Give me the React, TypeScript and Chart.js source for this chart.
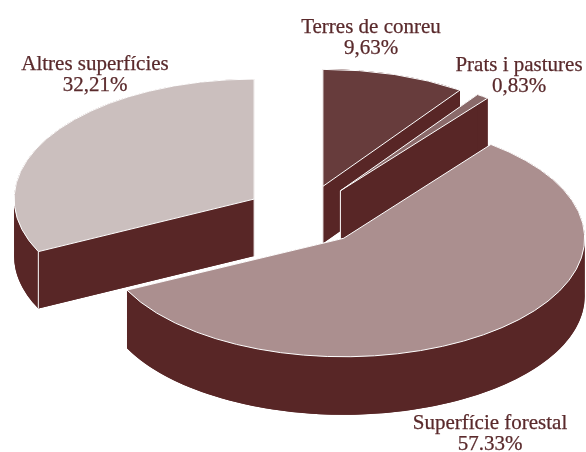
import React, { useEffect, useRef } from "react";
import { Chart, registerables } from "chart.js";

Chart.register(...registerables);

const categories = ["Terres de conreu", "Prats i pastures", "Superfície forestal", "Altres superfícies"];
const shares = [9.63, 0.83, 57.33, 32.21];
const shareLabels = ["9,63%", "0,83%", "57.33%", "32,21%"];
const faceColors = ["#673c3c", "#8a6a6a", "#ab8f8f", "#cbbfbe"];
const wallColor = "#582626";
const textColor = "#5a2a2c";

const labelCenters = [371, 519, 490, 95];
const labelBaselines = [33, 71, 429, 70];
const lineGap = 21;
const drawOrder = [3, 0, 1, 2];

const CENTER_X = 305;
const CENTER_Y = 215;
const EXPLODE_X = 60;
const EXPLODE_Y = 30;
const radiusX = [241, 241, 241, 240];
const radiusY = [117, 117, 118.5, 120];
const nudgeX = [0, 0, 0.8, 0];
const depth = [57, 57, 58, 57];

const pie3d = {
  id: "pie3d",
  beforeDatasetsDraw(chart: any) {
    const ctx = chart.ctx;
    const arcs = chart.getDatasetMeta(0).data;
    drawOrder.forEach((i) => {
      const arc = arcs[i];
      const rx = radiusX[i];
      const ry = radiusY[i];
      const D = depth[i];
      const mid = (arc.startAngle + arc.endAngle) / 2;
      const px = CENTER_X + nudgeX[i] + EXPLODE_X * Math.cos(mid);
      const py = CENTER_Y + EXPLODE_Y * Math.sin(mid);
      const drawAt = (dy: number) => {
        ctx.save();
        ctx.translate(px, py + dy);
        ctx.scale(rx / arc.outerRadius, ry / arc.outerRadius);
        ctx.translate(-arc.x, -arc.y);
        arc.draw(ctx);
        ctx.restore();
      };
      const cornerX = (a: number) => px + rx * Math.cos(a);
      const cornerY = (a: number) => py + ry * Math.sin(a);
      const saved = arc.options;

      // bottom face, and the sides swept down from the top face
      arc.options = { ...saved, backgroundColor: wallColor, borderWidth: 0 };
      drawAt(D);
      ctx.fillStyle = wallColor;
      [arc.startAngle, arc.endAngle].forEach((a: number) => {
        ctx.beginPath();
        ctx.moveTo(px, py);
        ctx.lineTo(cornerX(a), cornerY(a));
        ctx.lineTo(cornerX(a), cornerY(a) + D);
        ctx.lineTo(px, py + D);
        ctx.closePath();
        ctx.fill();
      });
      // the rim is split where the ellipse turns back, at its left and right ends
      const stops = [arc.startAngle];
      for (let k = Math.ceil(arc.startAngle / Math.PI); k * Math.PI < arc.endAngle; k++) {
        if (k * Math.PI > arc.startAngle) stops.push(k * Math.PI);
      }
      stops.push(arc.endAngle);
      for (let s = 0; s < stops.length - 1; s++) {
        ctx.beginPath();
        ctx.ellipse(px, py, rx, ry, 0, stops[s], stops[s + 1]);
        ctx.ellipse(px, py + D, rx, ry, 0, stops[s + 1], stops[s], true);
        ctx.closePath();
        ctx.fill();
      }

      ctx.strokeStyle = "#ffffff";
      ctx.lineWidth = 1;
      ctx.beginPath();
      ctx.moveTo(px, py);
      ctx.lineTo(px, py + D);
      if (cornerY(arc.startAngle) > py) {
        ctx.moveTo(cornerX(arc.startAngle), cornerY(arc.startAngle));
        ctx.lineTo(cornerX(arc.startAngle), cornerY(arc.startAngle) + D);
      }
      ctx.stroke();

      arc.options = { ...saved, borderWidth: 0 };
      drawAt(0);
      arc.options = saved;

      ctx.beginPath();
      ctx.moveTo(px, py);
      ctx.ellipse(px, py, rx, ry, 0, arc.startAngle, arc.endAngle);
      ctx.closePath();
      ctx.stroke();
    });
    return false;
  },
  afterDraw(chart: any) {
    const ctx = chart.ctx;
    ctx.save();
    ctx.fillStyle = textColor;
    ctx.strokeStyle = textColor;
    ctx.lineWidth = 0.25;
    ctx.textAlign = "center";
    ctx.textBaseline = "alphabetic";
    ctx.font = "21px 'Liberation Serif'";
    categories.forEach((name, i) => {
      ctx.save();
      ctx.translate(labelCenters[i], labelBaselines[i]);
      ctx.fillText(name, 0, 0);
      ctx.strokeText(name, 0, 0);
      ctx.fillText(shareLabels[i], 0, lineGap);
      ctx.strokeText(shareLabels[i], 0, lineGap);
      ctx.restore();
    });
    ctx.restore();
  },
};

export default function App() {
  const ref = useRef<HTMLCanvasElement | null>(null);
  useEffect(() => {
    document.body.style.margin = "0";
    const chart = new Chart(ref.current as HTMLCanvasElement, {
      type: "pie",
      data: {
        labels: categories,
        datasets: [{ data: shares, backgroundColor: faceColors, borderWidth: 0 }],
      },
      options: {
        responsive: false,
        animation: false,
        events: [],
        plugins: { legend: { display: false }, tooltip: { enabled: false } },
      },
      plugins: [pie3d],
    } as any);
    return () => chart.destroy();
  }, []);
  return (
    <div style={{ width: 586, height: 452, background: "#fff", overflow: "hidden" }}>
      <canvas ref={ref} width={586} height={452} style={{ display: "block" }} />
    </div>
  );
}
